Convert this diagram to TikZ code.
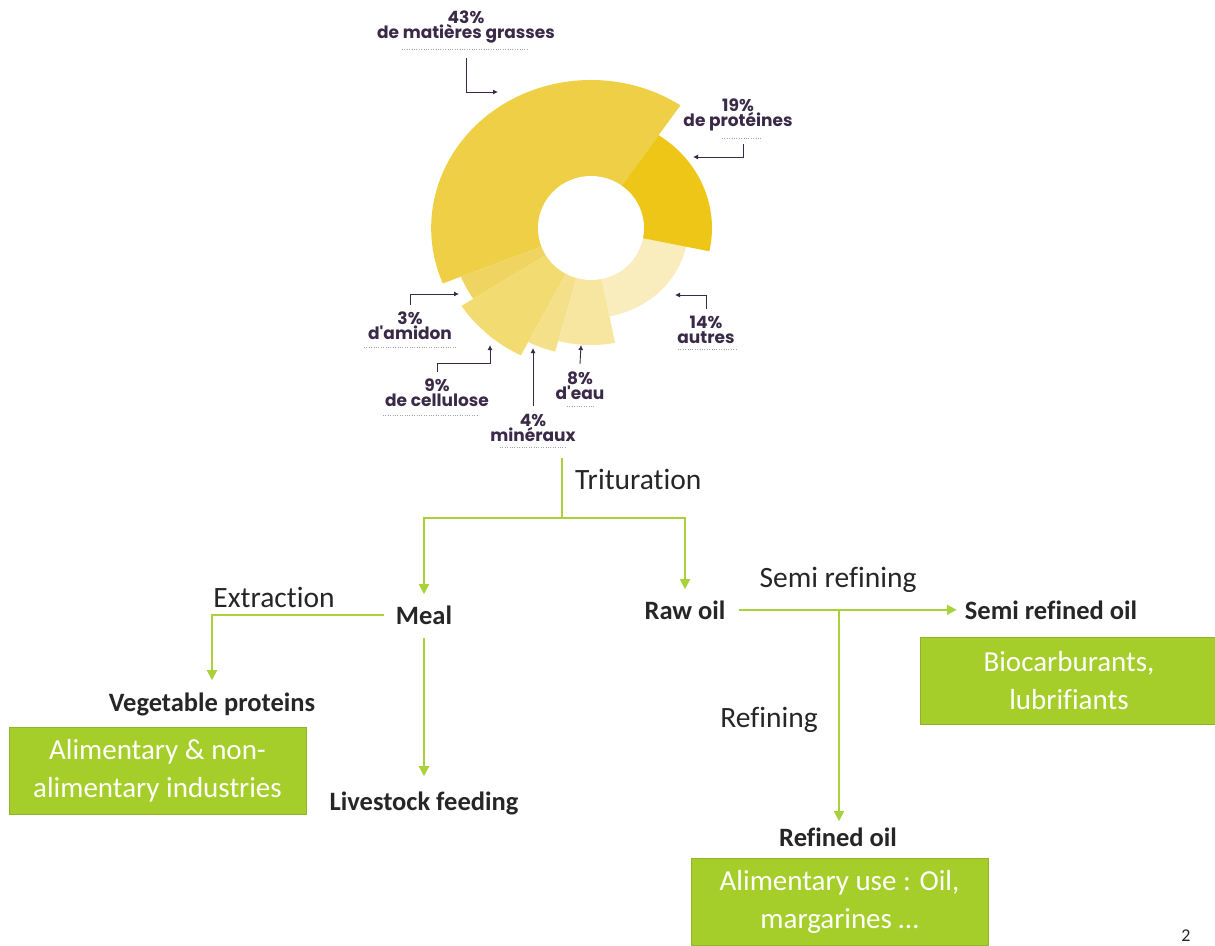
\documentclass[tikz,border=0pt]{standalone}
\usepackage{fontspec}
\setmainfont{Carlito}[Ligatures=NoCommon]
\newfontfamily\chartfont{Poppins}
\usetikzlibrary{arrows.meta,positioning}

\definecolor{fatcol}{HTML}{EFCF45}
\definecolor{protcol}{HTML}{EDC617}
\definecolor{othercol}{HTML}{F9EDBE}
\definecolor{watercol}{HTML}{F7E6A0}
\definecolor{mincol}{HTML}{F4E089}
\definecolor{cellucol}{HTML}{F2DC72}
\definecolor{starchcol}{HTML}{F0D462}
\definecolor{plum}{HTML}{3A2A48}
\definecolor{darktext}{HTML}{262626}
\definecolor{linegreen}{HTML}{A8D13A}
\definecolor{boxgreen}{HTML}{A5CE2A}
\definecolor{boxedge}{HTML}{8DB52A}

\tikzset{
  pct/.style={font=\chartfont\bfseries\fontsize{17}{15}\selectfont, text=plum, align=center, inner sep=0},
  ptr/.style={draw=plum, line width=0.9pt, -{Latex[length=5pt,width=5pt]}},
  dots/.style={draw=plum!45, line width=0.8pt, dash pattern=on 0.8pt off 1.6pt},
  stage/.style={font=\fontsize{29.5}{33}\selectfont, text=darktext, inner sep=0},
  product/.style={font=\bfseries\fontsize{26.5}{30}\selectfont, text=darktext, inner sep=0},
  usebox/.style={draw=boxedge, fill=boxgreen, line width=1pt, text=white, align=center,
    font=\fontsize{29}{38}\selectfont, minimum width=297pt, minimum height=87pt, inner sep=0},
  trunk/.style={draw=linegreen, line width=1.8pt},
  flow/.style={trunk, -{Triangle[width=10pt,length=10pt]}}
}

\begin{document}
\begin{tikzpicture}[x=1pt, y=-1pt]
  \useasboundingbox (0,0) rectangle (1215,945);

  % composition wheel
  \begin{scope}[shift={(591,228)}, x=1.08pt, y=1pt]
    \fill[fatcol] (0,0) -- (56:148) arc[start angle=56, end angle=202, radius=148] -- cycle;
    \fill[starchcol] (0,0) -- (202:130) arc[start angle=202, end angle=213, radius=130] -- cycle;
    \fill[cellucol] (0,0) -- (213:143) arc[start angle=213, end angle=243, radius=143] -- cycle;
    \fill[mincol] (0,0) -- (243:128) arc[start angle=243, end angle=255, radius=128] -- cycle;
    \fill[watercol] (0,0) -- (255:117) arc[start angle=255, end angle=281, radius=117] -- cycle;
    \fill[othercol] (0,0) -- (281:90) arc[start angle=281, end angle=348, radius=90] -- cycle;
    \fill[protcol] (0,0) -- (348:112) arc[start angle=348, end angle=416, radius=112] -- cycle;
  \end{scope}
  \fill[white] (591,228) circle[x radius=53pt, y radius=52pt];

  % wheel labels
  \node[pct] (fatlbl) at (466,27) {43\%\\de matières grasses};
  \node[pct] (protlbl) at (738,115) {19\%\\de protéines};
  \node[pct] (otherlbl) at (706,330) {14\%\\autres};
  \node[pct] (starchlbl) at (410,326) {3\%\\d'amidon};
  \node[pct] (cellulbl) at (437,393) {9\%\\de cellulose};
  \node[pct] (minlbl) at (533,428) {4\%\\minéraux};
  \node[pct] (waterlbl) at (580,386) {8\%\\d'eau};

  \draw[dots] (402,49) -- (528,49);
  \draw[dots] (722,138) -- (762,138);
  \draw[dots] (678,349) -- (736,349);
  \draw[dots] (364,347) -- (457,347);
  \draw[dots] (383,415) -- (477,415);
  \draw[dots] (500,447) -- (565,447);
  \draw[dots] (567,406) -- (595,406);

  \coordinate (fatTip) at (498,92);
  \coordinate (protTip) at (693,157);
  \coordinate (otherTip) at (675,295);
  \coordinate (starchTip) at (459,294);
  \coordinate (celluTip) at (490,345);
  \coordinate (minTip) at (533,348);
  \coordinate (waterTip) at (581,345);
  \draw[ptr] ([yshift=-15pt]fatlbl.south) |- (fatTip);
  \draw[ptr] ([xshift=5pt,yshift=-13pt]protlbl.south) |- (protTip);
  \draw[ptr] ([yshift=7pt]otherlbl.north) |- (otherTip);
  \draw[ptr] ([yshift=7pt]starchlbl.north) |- (starchTip);
  \draw[ptr] ([yshift=7pt]cellulbl.north) -- ++(0,-8) -| (celluTip);
  \draw[ptr] ([yshift=8pt]minlbl.north) -- (minTip);
  \draw[ptr] ([yshift=8pt]waterlbl.north) -- (waterTip);

  % process
  \coordinate (src) at (562,458);
  \coordinate (split) at (562,518);
  \node[stage, anchor=base west] (trit) at (575,489) {Trituration};
  \node[product, anchor=base] (meal) at (424,624) {Meal};
  \node[product, anchor=base] (rawoil) at (685,619) {Raw oil};
  \node[product, anchor=base] (semi) at (1051,619) {Semi refined oil};
  \node[product, anchor=base] (vegprot) at (212,711) {Vegetable proteins};
  \node[product, anchor=base] (livestock) at (424,810) {Livestock feeding};
  \node[product, anchor=base] (refined) at (838,846) {Refined oil};
  \node[stage, anchor=base] (extract) at (274,607) {Extraction};
  \node[stage, anchor=base] (semiref) at (838,587) {Semi refining};
  \node[stage, anchor=base] (refining) at (769,727) {Refining};
  \coordinate (fork) at (839,610);

  \node[usebox] (vegbox) at (157.5,770.5) {Alimentary \& non-\\alimentary industries};
  \node[usebox] (fuelbox) at (1069,680.5) {Biocarburants,\\lubrifiants};
  \node[usebox] (foodbox) at (839.5,901.5) {Alimentary use : Oil,\\margarines …};

  \draw[trunk] (src) -- (split);
  \draw[flow, shorten >=11pt] (split) -| (meal.north);
  \draw[flow, shorten >=11pt] (split) -| (rawoil.north);
  \draw[flow, shorten <=12pt, shorten >=12pt] (meal.west) -| (vegprot.north);
  \draw[flow, shorten <=14pt, shorten >=15pt] (meal.south) -- (livestock.north);
  \draw[flow, shorten <=13pt, shorten >=8pt] (rawoil.east) -- (semi.west);
  \draw[flow, shorten >=6pt] (fork) -- (fork |- refined.north);

  \node[font=\fontsize{18}{22}\selectfont, text=darktext, anchor=base, inner sep=0] (pagenum) at (1186,941) {2};
\end{tikzpicture}
\end{document}
